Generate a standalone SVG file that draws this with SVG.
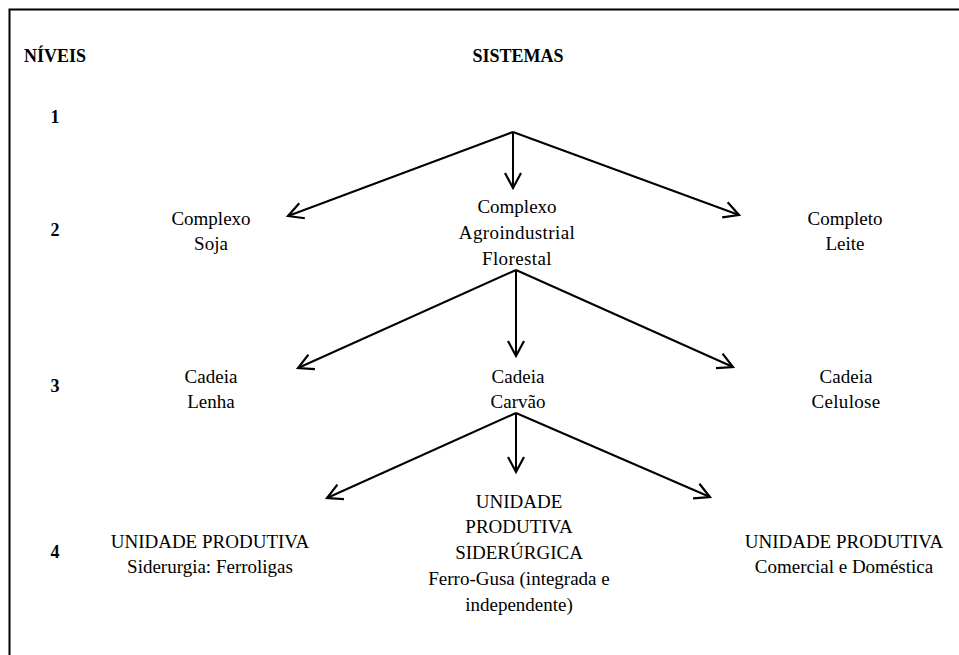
<svg xmlns="http://www.w3.org/2000/svg" width="959" height="655" viewBox="0 0 959 655" font-family="'Liberation Serif', 'DejaVu Serif', serif">
<defs>
<style>
text{font-family:'Liberation Serif','Times New Roman','DejaVu Serif',serif}
.t{font-size:19px;fill:#000;text-anchor:middle}
.b{font-size:18px;font-weight:bold;fill:#000}
.c{stroke:#000;stroke-width:2;fill:none;marker-end:url(#ah)}
.f{stroke:#000;stroke-width:2;fill:none}
</style>
<marker id="ah" markerUnits="userSpaceOnUse" markerWidth="24" markerHeight="24" viewBox="-18 -12 24 24" refX="0" refY="0" orient="auto">
<path d="M-15,-8 L0,0 L-15,8" fill="none" stroke="#000" stroke-width="2.2" stroke-linejoin="miter"/>
</marker>
</defs>
<rect width="959" height="655" fill="#fff"/>
<g id="frame">
<path class="f" d="M9.5,655 L9.5,9.5 L959,9.5"/>
</g>
<g id="headers">
<text class="b" x="24" y="62">NÍVEIS</text>
<text class="b" x="518" y="62" text-anchor="middle">SISTEMAS</text>
<text class="b" x="55" y="123" text-anchor="middle">1</text>
<text class="b" x="55" y="236" text-anchor="middle">2</text>
<text class="b" x="55" y="392" text-anchor="middle">3</text>
<text class="b" x="55" y="558" text-anchor="middle">4</text>
</g>
<g id="connectors">
<line class="c" x1="513" y1="132" x2="288" y2="216"/>
<line class="c" x1="513" y1="132" x2="513" y2="188"/>
<line class="c" x1="513" y1="132" x2="739" y2="215"/>
<line class="c" x1="516" y1="270" x2="298" y2="368"/>
<line class="c" x1="516" y1="270" x2="516" y2="356"/>
<line class="c" x1="516" y1="270" x2="733" y2="367"/>
<line class="c" x1="516" y1="413" x2="327" y2="498"/>
<line class="c" x1="516" y1="413" x2="516" y2="472"/>
<line class="c" x1="516" y1="413" x2="710" y2="497"/>
</g>
<g id="complexo-soja">
<text class="t" x="211" y="225">Complexo</text>
<text class="t" x="211" y="250">Soja</text>
</g>
<g id="complexo-florestal">
<text class="t" x="517" y="213">Complexo</text>
<text class="t" x="517" y="239" letter-spacing="0.4">Agroindustrial</text>
<text class="t" x="517" y="265" letter-spacing="0.4">Florestal</text>
</g>
<g id="completo-leite">
<text class="t" x="845" y="225">Completo</text>
<text class="t" x="845" y="250">Leite</text>
</g>
<g id="cadeia-lenha">
<text class="t" x="211" y="383">Cadeia</text>
<text class="t" x="211" y="408">Lenha</text>
</g>
<g id="cadeia-carvao">
<text class="t" x="518" y="383">Cadeia</text>
<text class="t" x="518" y="408">Carvão</text>
</g>
<g id="cadeia-celulose">
<text class="t" x="846" y="383">Cadeia</text>
<text class="t" x="846" y="408" letter-spacing="0.3">Celulose</text>
</g>
<g id="unidade-ferroligas">
<text class="t" x="210" y="548">UNIDADE PRODUTIVA</text>
<text class="t" x="210" y="573">Siderurgia: Ferroligas</text>
</g>
<g id="unidade-siderurgica">
<text class="t" x="519" y="508">UNIDADE</text>
<text class="t" x="519" y="533">PRODUTIVA</text>
<text class="t" x="519" y="559">SIDERÚRGICA</text>
<text class="t" x="519" y="585">Ferro-Gusa (integrada e</text>
<text class="t" x="519" y="611">independente)</text>
</g>
<g id="unidade-comercial">
<text class="t" x="844" y="548">UNIDADE PRODUTIVA</text>
<text class="t" x="844" y="573">Comercial e Doméstica</text>
</g>
</svg>
